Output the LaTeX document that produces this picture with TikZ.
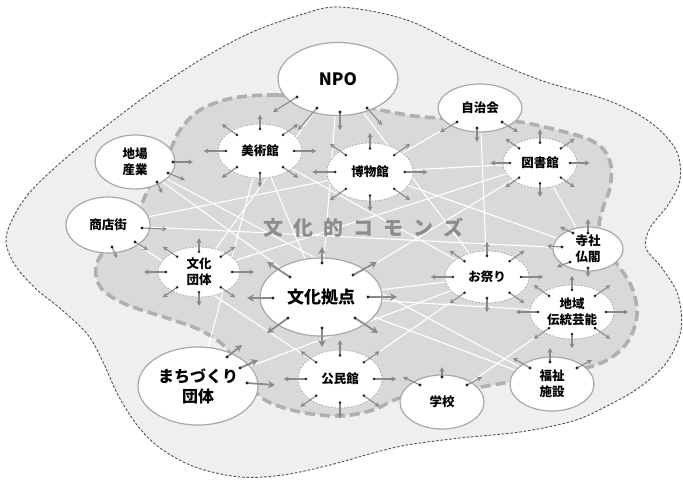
\documentclass[tikz,border=0pt]{standalone}
\usepackage{fontspec}
\newfontfamily\jp{Noto Sans CJK JP}
\usetikzlibrary{shapes.geometric,arrows.meta,calc}
\definecolor{outerfill}{HTML}{EFEFEF}
\definecolor{outerline}{HTML}{505050}
\definecolor{regionfill}{HTML}{D9D9D9}
\definecolor{regionline}{HTML}{B0B0B0}
\definecolor{nodeline}{HTML}{A8A8A8}
\definecolor{arrowgray}{HTML}{8A8A8A}
\definecolor{dotcol}{HTML}{222222}
\definecolor{commonsgray}{HTML}{8C8C8C}
\pgfdeclarelayer{regions}
\pgfdeclarelayer{links}
\pgfsetlayers{regions,links,main}
\newcommand\radials[1]{%
  \foreach \a in {0,35,90,145,180,215,270,325} {
    \draw[stub] ($(#1.center)!0.8!(#1.\a)$) -- ($(#1.center)!1.33!(#1.\a)$);
    \fill[dotcol] ($(#1.center)!0.8!(#1.\a)$) circle (1.4pt);
  }}
\newcommand\nstub[4][stub]{%
  \draw[#1] ($(#2.center)+(#3)$) -- ($(#2.center)+(#4)$);
  \fill[dotcol] ($(#2.center)+(#3)$) circle (1.6pt);}
\begin{document}
\begin{tikzpicture}[x=1pt,y=-1pt,
  lbl/.style={font=\jp\bfseries\fontsize{12.5}{16}\selectfont},
  solidnode/.style={ellipse, draw=nodeline, line width=1.2pt, fill=white, inner sep=0pt, align=center, text=black, lbl},
  dashnode/.style={ellipse, draw=nodeline, line width=0.8pt, dash pattern=on 1.6pt off 1.6pt, fill=white, inner sep=0pt, align=center, text=black, lbl},
  stub/.style={draw=arrowgray, line width=1.1pt, -{Stealth[length=5pt,width=5pt]}},
  bigstub/.style={draw=arrowgray, line width=1.8pt, -{Stealth[length=7pt,width=7.5pt]}},
  link/.style={draw=white, line width=1.1pt},
]
\useasboundingbox (0,0) rectangle (683,483);

\begin{pgfonlayer}{regions}
\fill[white] (0,0) rectangle (683,483);
\path[fill=outerfill, draw=outerline, line width=0.9pt, dash pattern=on 2.6pt off 1.8pt]
  plot[smooth cycle, tension=0.55] coordinates {
  (340,7) (407,20) (473,52) (540,80) (607,100) (650,122) (676,150) (680,180)
  (668,205) (650,228) (646,248) (662,268) (678,295) (681,330) (667,362)
  (640,387) (607,406) (573,421) (520,432) (460,438) (407,445) (373,453)
  (330,465) (283,475) (240,477) (195,467) (160,448) (137,425) (118,395)
  (103,362) (88,335) (62,310) (35,288) (15,265) (6,242) (12,220) (30,192)
  (67,157) (110,123) (150,93) (200,60) (250,33) (300,15)};
\path[fill=regionfill, draw=regionline, line width=3.6pt, dash pattern=on 10pt off 5pt]
  plot[smooth cycle, tension=0.55] coordinates {
  (330,100) (277,95) (233,98) (200,110) (180,130) (168,155) (150,185)
  (138,210) (110,243) (96,266) (101,288) (125,304) (167,318) (200,330)
  (225,347) (245,378) (265,400) (300,412) (340,416) (373,410) (400,398)
  (440,392) (480,387) (515,381) (555,374) (593,366) (615,355) (630,338)
  (637,315) (633,290) (620,268) (605,250) (599,228) (603,208) (610,188)
  (611,166) (604,150) (588,139) (557,130) (520,122) (480,119) (423,117)
  (380,110)};
\end{pgfonlayer}

\node[font=\jp\bfseries\fontsize{20}{24}\selectfont, text=commonsgray] (commons) at (363,228)
  {文\hspace{10pt}化\hspace{10pt}的\hspace{10pt}コ\hspace{10pt}モ\hspace{10pt}ン\hspace{10pt}ズ};

% solid nodes
\node[solidnode, minimum width=120pt, minimum height=73pt, font=\jp\bfseries\fontsize{17}{20}\selectfont] (npo) at (338,79) {NPO};
\node[solidnode, minimum width=84pt, minimum height=48pt] (jichi) at (480,108) {自治会};
\node[solidnode, minimum width=80pt, minimum height=54pt] (jiba) at (135,162) {地場\\産業};
\node[solidnode, minimum width=84pt, minimum height=56pt] (shoten) at (108,225) {商店街};
\node[solidnode, minimum width=122pt, minimum height=78pt, font=\jp\bfseries\fontsize{17}{20}\selectfont] (kyoten) at (321,297) {文化拠点};
\node[solidnode, minimum width=70pt, minimum height=44pt] (jisha) at (588,249) {寺社\\仏閣};
\node[solidnode, minimum width=84pt, minimum height=54pt] (fukushi) at (552,384) {福祉\\施設};
\node[solidnode, minimum width=84pt, minimum height=54pt] (gakko) at (442,402) {学校};
\node[solidnode, minimum width=120pt, minimum height=78pt, font=\jp\bfseries\fontsize{16}{20}\selectfont] (machi) at (198,386) {まちづくり\\団体};

% dashed nodes
\node[dashnode, minimum width=84pt, minimum height=54pt] (bij) at (260,151) {美術館};
\node[dashnode, minimum width=86pt, minimum height=58pt] (hak) at (370,172) {博物館};
\node[dashnode, minimum width=74pt, minimum height=50pt] (tosho) at (540,163) {図書館};
\node[dashnode, minimum width=82pt, minimum height=50pt] (dantai) at (199,272) {文化\\団体};
\node[dashnode, minimum width=84pt, minimum height=52pt] (matsuri) at (487,277) {お祭り};
\node[dashnode, minimum width=84pt, minimum height=54pt] (dento) at (572,312) {地域\\伝統芸能};
\node[dashnode, minimum width=84pt, minimum height=58pt] (kominkan) at (340,379) {公民館};

% white links
\begin{pgfonlayer}{links}
\foreach \p/\q in {npo/kyoten, npo/matsuri, npo/dantai, jiba/kyoten, jiba/fukushi,
  shoten/hak, shoten/jisha, shoten/kominkan, bij/kyoten, bij/machi, bij/matsuri,
  hak/tosho, hak/jisha, jichi/hak, jichi/matsuri, tosho/dantai, tosho/jisha,
  kyoten/dento, kyoten/matsuri, kyoten/fukushi, kyoten/tosho, matsuri/kominkan,
  dento/gakko, machi/matsuri}
  \draw[link] (\p.center) -- (\q.center);
\end{pgfonlayer}

% radial arrows of dashed nodes
\radials{bij}
\radials{hak}
\radials{tosho}
\radials{dantai}
\radials{matsuri}
\radials{dento}
\radials{kominkan}

% arrows of solid nodes
\nstub{npo}{-41,18}{-65,33}
\nstub{npo}{-21,29}{-40,51}
\nstub{npo}{2,33}{2,51}
\nstub{npo}{29,29}{44,46}
\nstub{jichi}{-23,14}{-40,24}
\nstub{jichi}{-3,20}{-3,34}
\nstub{jichi}{22,14}{38,24}
\nstub{jiba}{38,0}{58,0}
\nstub{jiba}{33,11}{50,18}
\nstub{jiba}{22,20}{27,31}
\nstub{shoten}{34,3}{59,4}
\nstub{shoten}{27,17}{40,25}
\nstub{shoten}{4,22}{9,33}
\nstub[bigstub]{kyoten}{1,-34}{1,-50}
\nstub[bigstub]{kyoten}{-31,-20}{-54,-35}
\nstub[bigstub]{kyoten}{32,-22}{56,-35}
\nstub[bigstub]{kyoten}{-48,1}{-74,1}
\nstub[bigstub]{kyoten}{47,0}{76,0}
\nstub[bigstub]{kyoten}{-33,21}{-54,36}
\nstub[bigstub]{kyoten}{34,21}{57,36}
\nstub[bigstub]{kyoten}{1,31}{1,50}
\nstub{jisha}{0,-16}{0,-30}
\nstub{jisha}{-15,-16}{-28,-22}
\nstub{jisha}{-26,-2}{-41,-3}
\nstub{jisha}{-18,13}{-31,18}
\nstub{jisha}{0,19}{0,28}
\nstub{fukushi}{-22,-16}{-39,-26}
\nstub{fukushi}{-2,-22}{-2,-36}
\nstub{fukushi}{25,-16}{40,-24}
\nstub{gakko}{-22,-17}{-39,-25}
\nstub{gakko}{0,-25}{0,-35}
\nstub{gakko}{25,-17}{40,-25}
\nstub[bigstub]{machi}{29,-29}{44,-41}
\nstub[bigstub]{machi}{42,-18}{60,-26}
\nstub[bigstub]{machi}{49,-3}{77,-1}
\end{tikzpicture}
\end{document}
